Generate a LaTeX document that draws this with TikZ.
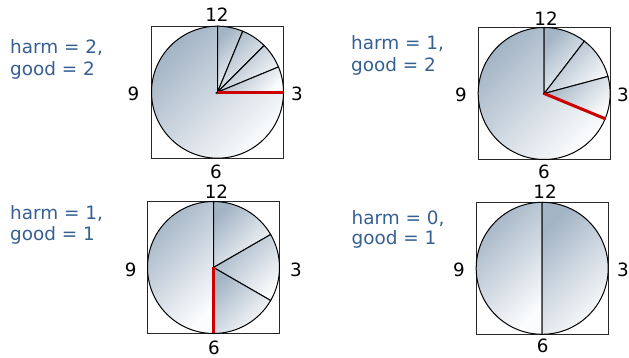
\documentclass[tikz,border=0pt]{standalone}
\usepackage{fontspec}
\setmainfont{DejaVu Sans}
\definecolor{shdark}{RGB}{163,180,197}
\definecolor{shmid}{RGB}{205,214,224}
\definecolor{shlight}{RGB}{251,252,253}
\definecolor{lbl}{RGB}{54,96,146}
\definecolor{redhand}{RGB}{204,0,0}
\definecolor{boxcol}{RGB}{40,40,40}
\tikzset{
  wedge/.style={draw=black, line width=1pt, top color=shdark, middle color=shmid, bottom color=shlight, shading angle=45},
  framebox/.style={draw=boxcol, line width=0.9pt},
  hand/.style={draw=redhand, line width=3pt},
  num/.style={anchor=base, inner sep=0pt, font=\fontsize{18.3}{21}\selectfont, text=black},
  info/.style={anchor=base west, inner sep=0pt, font=\fontsize{18.4}{21}\selectfont, text=lbl}
}
\newcommand{\sector}[3]{% center, start angle, end angle
  \shade[wedge] (#1) -- ++(#2:66) arc[start angle=#2, end angle=#3, radius=66] -- cycle;}
\begin{document}
\begin{tikzpicture}[x=1pt,y=1pt]
\useasboundingbox (0,0) rectangle (629,358);
% centres
\coordinate (c1) at (217.5,265.8);
\coordinate (c2) at (544.2,264.5);
\coordinate (c3) at (213.5,90.5);
\coordinate (c4) at (542.2,89.7);
% boxes
\foreach \c in {c1,c2,c3,c4}{
  \draw[framebox] ([shift={(-66,-66)}]\c) rectangle ([shift={(66,66)}]\c);
}
% panel 1
\sector{c1}{90}{360}
\sector{c1}{90}{67.5}
\sector{c1}{67.5}{45}
\sector{c1}{45}{22.5}
\sector{c1}{22.5}{0}
\coordinate (e1) at ([shift={(0:66)}]c1);
\draw[hand] (c1) -- (e1);
% panel 2
\sector{c2}{90}{337.5}
\sector{c2}{90}{52.5}
\sector{c2}{52.5}{15}
\sector{c2}{15}{-22.5}
\coordinate (e2) at ([shift={(-22.5:66)}]c2);
\draw[hand] (c2) -- (e2);
% panel 3
\sector{c3}{90}{270}
\sector{c3}{90}{30}
\sector{c3}{30}{-30}
\sector{c3}{-30}{-90}
\coordinate (e3) at ([shift={(-90:66)}]c3);
\draw[hand] (c3) -- (e3);
% panel 4
\sector{c4}{90}{270}
\sector{c4}{90}{-90}
% clock numbers
\node[num] (p1n12) at (217,336.3) {12};
\node[num] (p1n9) at (133.5,257.3) {9};
\node[num] (p1n3) at (297,257) {3};
\node[num] (p1n6) at (216,179.7) {6};
\node[num] (p2n12) at (546,332) {12};
\node[num] (p2n9) at (461,256.3) {9};
\node[num] (p2n3) at (623,256.3) {3};
\node[num] (p2n6) at (544,179.7) {6};
\node[num] (p3n12) at (216.5,159) {12};
\node[num] (p3n9) at (130.7,81.3) {9};
\node[num] (p3n3) at (296,81.3) {3};
\node[num] (p3n6) at (214,3) {6};
\node[num] (p4n12) at (545,159) {12};
\node[num] (p4n9) at (459,81.3) {9};
\node[num] (p4n3) at (623,81.3) {3};
\node[num] (p4n6) at (542.7,5) {6};
% labels
\node[info] (h1) at (10,304.7) {harm = 2,};
\node[info] (g1) at (10,282.7) {good = 2};
\node[info] (h2) at (351,308) {harm = 1,};
\node[info] (g2) at (351,286.3) {good = 2};
\node[info] (h3) at (10,138.7) {harm = 1,};
\node[info] (g3) at (10,117) {good = 1};
\node[info] (h4) at (351.5,133.7) {harm = 0,};
\node[info] (g4) at (351.5,113) {good = 1};
\end{tikzpicture}
\end{document}
